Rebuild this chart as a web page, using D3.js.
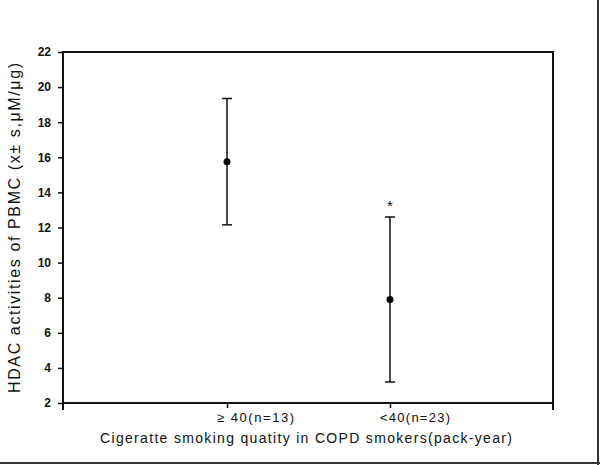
<!DOCTYPE html>
<html>
<head>
<meta charset="utf-8">
<script src="https://cdn.jsdelivr.net/npm/d3@7"></script>
<style>
  body { margin: 0; background: #fff; }
  svg { display: block; font-family: "Liberation Sans", Arial, sans-serif; }
</style>
</head>
<body>
<div id="chart"></div>
<script>
// data
const groups = ["\u2265 40(n=13)", "<40(n=23)"];
const means = [15.75, 7.9];
const sds = [3.6, 4.7];
const marks = ["", "*"];
const yTicks = [2, 4, 6, 8, 10, 12, 14, 16, 18, 20, 22];

const width = 600,
    height = 465,
    margin = {top: 52, right: 47, bottom: 62, left: 63};

const svg = d3.select("#chart")
    .append("svg")
    .attr("width", width)
    .attr("height", height);

// outer frame, only right and bottom edges show
svg.append("line")
    .attr("x1", 598).attr("x2", 598).attr("y1", 0).attr("y2", height)
    .attr("stroke", "#333").attr("stroke-width", 2);
svg.append("line")
    .attr("x1", 0).attr("x2", width).attr("y1", 463).attr("y2", 463)
    .attr("stroke", "#333").attr("stroke-width", 2);

const x0 = margin.left, x1 = width - margin.right;
const y0 = height - margin.bottom, y1 = margin.top;

const y = d3.scaleLinear()
    .domain([2, 22])
    .range([y0, y1]);

// category positions, ticks sit left of centre like the original
const x = d3.scalePoint()
    .domain(groups)
    .range([227, 390]);

// plot box
svg.append("rect")
    .attr("x", x0).attr("y", y1)
    .attr("width", x1 - x0).attr("height", y0 - y1)
    .attr("fill", "none")
    .attr("stroke", "#111")
    .attr("stroke-width", 2);

// left axis
const yAxis = svg.append("g")
    .attr("transform", `translate(${x0},0)`)
    .call(d3.axisLeft(y).tickValues(yTicks).tickSize(5).tickPadding(7).tickSizeOuter(0));
yAxis.select(".domain").remove();
yAxis.selectAll("line").attr("stroke", "#111").attr("stroke-width", 1.5);
yAxis.selectAll("text")
    .style("font-size", "12px")
    .style("font-weight", "bold")
    .attr("fill", "#111");

// bottom axis ticks
const xAxis = svg.append("g")
    .attr("transform", `translate(0,${y0})`)
    .call(d3.axisBottom(x).tickSize(5).tickSizeOuter(0).tickFormat(""));
xAxis.select(".domain").remove();
xAxis.selectAll("line").attr("stroke", "#111").attr("stroke-width", 1.5);

// frame ends drop below the x axis
[x0, x1].forEach(function(xx){
    svg.append("line")
        .attr("x1", xx).attr("x2", xx)
        .attr("y1", y0).attr("y2", y0 + 7)
        .attr("stroke", "#111").attr("stroke-width", 2);
});

// category labels, start just left of the tick
const labWidths = [77, 70];
svg.selectAll(".xlab")
    .data(groups)
    .join("text")
    .attr("class", "xlab")
    .attr("x", d => x(d) - 10)
    .attr("y", y0 + 19)
    .attr("text-anchor", "start")
    .attr("textLength", (d, i) => labWidths[i])
    .attr("lengthAdjust", "spacing")
    .style("font-size", "13px")
    .attr("fill", "#111")
    .text(d => d);

// error bars
const caps = 5;
groups.forEach(function(g, i){
    const cx = x(g);
    svg.append("line")
        .attr("x1", cx).attr("x2", cx)
        .attr("y1", y(means[i] - sds[i])).attr("y2", y(means[i] + sds[i]))
        .attr("stroke", "#111").attr("stroke-width", 1.5);
    [means[i] - sds[i], means[i] + sds[i]].forEach(function(v){
        svg.append("line")
            .attr("x1", cx - caps).attr("x2", cx + caps)
            .attr("y1", y(v)).attr("y2", y(v))
            .attr("stroke", "#111").attr("stroke-width", 1.5);
    });
    svg.append("circle")
        .attr("cx", cx).attr("cy", y(means[i]))
        .attr("r", 3.5)
        .attr("fill", "#000");
    if (marks[i]) {
        svg.append("text")
            .attr("x", cx).attr("y", y(means[i] + sds[i]) - 6)
            .attr("text-anchor", "middle")
            .style("font-size", "15px")
            .attr("fill", "#111")
            .text(marks[i]);
    }
});

// axis titles
svg.append("text")
    .attr("x", 100).attr("y", 443)
    .attr("textLength", 412)
    .attr("lengthAdjust", "spacing")
    .style("font-size", "14px")
    .attr("fill", "#111")
    .text("Cigeratte smoking quatity in COPD smokers(pack-year)");

svg.append("text")
    .attr("transform", "translate(20,228) rotate(-90)")
    .attr("text-anchor", "middle")
    .attr("textLength", 330)
    .attr("lengthAdjust", "spacing")
    .style("font-size", "16px")
    .attr("fill", "#111")
    .text("HDAC activities of PBMC (x\u00b1 s,\u03bcM/\u03bcg)");
</script>
</body>
</html>
